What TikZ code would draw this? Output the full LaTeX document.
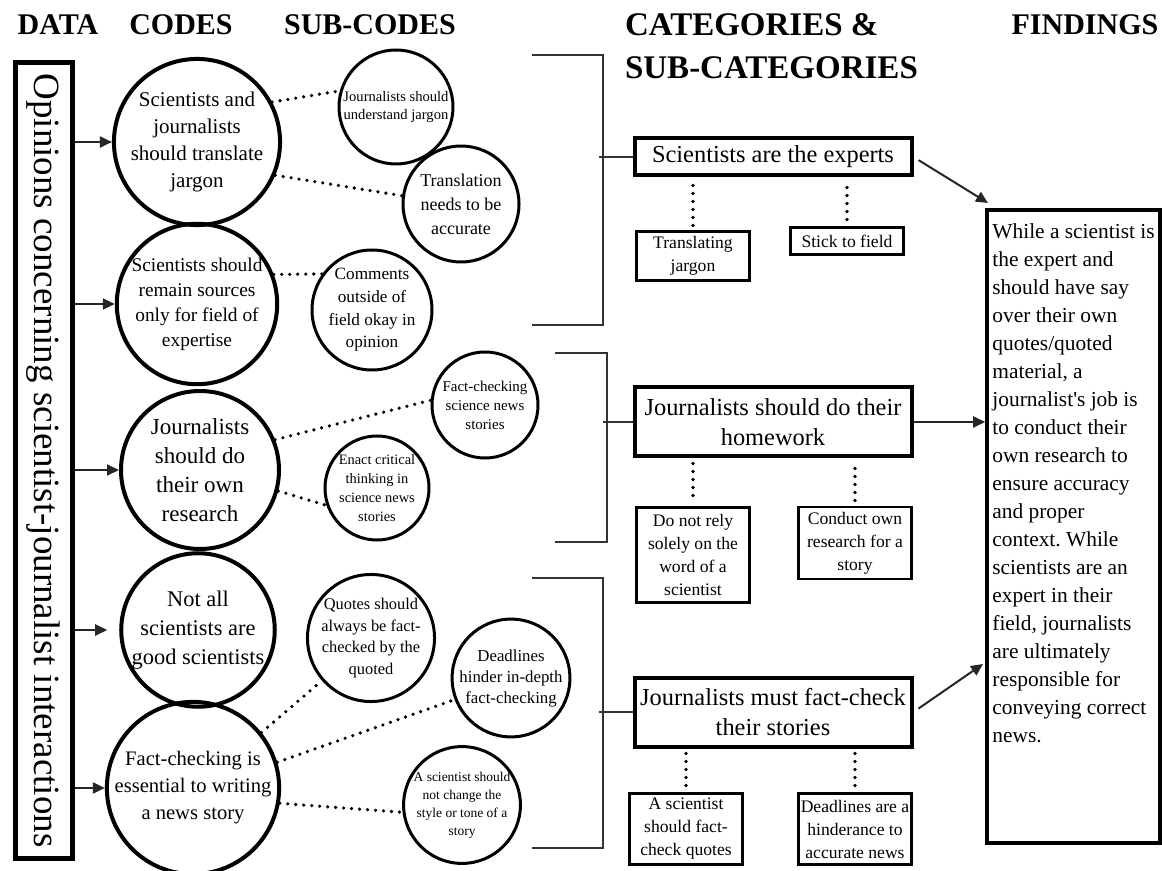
\documentclass[tikz,border=0pt]{standalone}
\usepackage{fontspec}
\setmainfont{Liberation Serif}[Ligatures=TeXOff]
\usetikzlibrary{arrows.meta}

\begin{document}
\frenchspacing
\begin{tikzpicture}[
    x=0.5pt, y=-0.5pt,
	header/.style={
	  font=\fontsize{15}{17}\selectfont\bfseries
	},
	databox/.style={
	  draw,
	  line width=2.5pt,
	  rotate=-90,
	  minimum width=397.5pt,
	  minimum height=28.5pt,
	  inner sep=0pt,
	  font=\fontsize{18.5}{20}\selectfont
	},
	codecirc/.style={
	  circle,
	  draw,
	  line width=2pt,
	  minimum size=#1,
	  inner sep=0pt,
	  align=center
	},
	subcirc/.style={
	  circle,
	  draw,
	  line width=1.5pt,
	  minimum size=#1,
	  inner sep=0pt,
	  align=center
	},
	catbox/.style={
	  draw,
	  line width=2pt,
	  minimum width=138.5pt,
	  inner sep=0pt,
	  align=center,
	  font=\fontsize{12.2}{15}\selectfont
	},
	subbox/.style={
	  draw,
	  line width=1.2pt,
	  minimum width=56.5pt,
	  inner sep=0pt,
	  align=center,
	  font=\fontsize{8.8}{11.5}\selectfont
	},
	findbox/.style={
	  draw,
	  line width=1.8pt,
	  minimum width=86.5pt,
	  minimum height=316.5pt
	},
	dotline/.style={line width=1.8pt, line cap=round, dash pattern=on 0pt off 4pt},
	arr/.style={-{Triangle[length=6pt,width=5.5pt]}, line width=1pt, black!85},
	brack/.style={line width=1pt, black!80}
	]
	\useasboundingbox (0,0) rectangle (1162,871);

	% column headers
	\node[header] (hdata) at (58,25) {DATA};
	\node[header] (hcodes) at (181,25) {CODES};
	\node[header] (hsub) at (370,25) {SUB-CODES};
	\node[header, anchor=west, align=left, font=\fontsize{16.5}{21.5}\selectfont\bfseries] (hcat) at (618,46) {CATEGORIES \&\\SUB-CATEGORIES};
	\node[header] (hfind) at (1085,25) {FINDINGS};

	% data
	\node[databox] (data) at (43.5,460.5) {Opinions concerning scientist-journalist interactions};

	% codes
	\node[codecirc=78pt, font=\fontsize{10.5}{13.5}\selectfont] (c1) at (197,142) {Scientists and\\journalists\\should translate\\jargon};
	\node[codecirc=77pt, font=\fontsize{9.7}{12.5}\selectfont] (c2) at (197,304) {Scientists should\\remain sources\\only for field of\\expertise};
	\node[codecirc=79pt, font=\fontsize{11.5}{14.5}\selectfont] (c3) at (200,470) {Journalists\\should do\\their own\\research};
	\node[codecirc=74pt, font=\fontsize{11.2}{14.5}\selectfont] (c4) at (198,630) {Not all\\scientists are\\good scientists};
	\node[codecirc=77pt, font=\fontsize{10.3}{13.5}\selectfont] (c5) at (193,788) {Fact-checking is\\essential to writing\\a news story};

	\draw[arr] (data.north |- c1.west) -- (c1.west);
	\draw[arr] (data.north |- c2.west) -- (c2.west);
	\draw[arr] (data.north |- c3.west) -- (c3.west);
	\draw[arr, shorten >=6pt] (data.north |- c4.west) -- (c4.west);
	\draw[arr] (data.north |- c5.west) -- (c5.west);

	% sub-codes
	\node[subcirc=57pt, font=\fontsize{7.3}{9}\selectfont] (sa) at (396,107) {Journalists should\\understand jargon};
	\node[subcirc=58pt, font=\fontsize{9}{12}\selectfont] (sb) at (461,204) {Translation\\needs to be\\accurate};
	\node[subcirc=60pt, font=\fontsize{8.6}{11.3}\selectfont] (sc) at (372,310) {Comments\\outside of\\field okay in\\opinion};
	\node[subcirc=53pt, font=\fontsize{7.5}{9.5}\selectfont] (sd) at (485,405) {Fact-checking\\science news\\stories};
	\node[subcirc=52pt, font=\fontsize{7.2}{9.5}\selectfont] (se) at (377,488) {Enact critical\\thinking in\\science news\\stories};
	\node[subcirc=58pt, font=\fontsize{8.2}{10.8}\selectfont] (sf) at (371,638) {Quotes should\\always be fact-\\checked by the\\quoted};
	\node[subcirc=57pt, font=\fontsize{8.4}{10.5}\selectfont] (sg) at (511,678) {Deadlines\\hinder in-depth\\fact-checking};
	\node[subcirc=53pt, font=\fontsize{6.75}{9}\selectfont] (sh) at (462,805) {A scientist should\\not change the\\style or tone of a\\story};

	\draw[dotline] (c1.28) -- (sa.164);
	\draw[dotline] (c1.-23) -- (sb.172);
	\draw[dotline] (c2.21) -- (sc.144);
	\draw[dotline] (c3.22) -- (sd.175);
	\draw[dotline] (c3.-15) -- (se.199);
	\draw[dotline] (c5.39) -- (sf.221);
	\draw[dotline] (c5.17) -- (sg.201);
	\draw[dotline] (c5.-10) -- (sh.187);

	% categories
	\node[catbox, minimum height=18.5pt] (k1) at (773,157) {Scientists are the experts};
	\node[catbox, minimum height=34.5pt] (k2) at (773,422) {Journalists should do their\\homework};
	\node[catbox, minimum height=34.5pt] (k3) at (773,712) {Journalists must fact-check\\their stories};

	\coordinate (b1top) at (532,55);
	\coordinate (b1bot) at (532,325);
	\coordinate (b2top) at (555,353);
	\coordinate (b2bot) at (555,542);
	\coordinate (b3top) at (532,578);
	\coordinate (b3bot) at (532,848);
	\draw[brack] (b1top) -- ++(71,0) |- (b1bot);
	\draw[brack] (k1.west) -- ++(-34,0);
	\draw[brack] (b2top) -- ++(52,0) |- (b2bot);
	\draw[brack] (k2.west) -- ++(-30,0);
	\draw[brack] (b3top) -- ++(71,0) |- (b3bot);
	\draw[brack] (k3.west) -- ++(-34,0);

	% sub-categories
	\node[subbox, minimum height=24.5pt] (t1) at (693,256) {Translating\\jargon};
	\node[subbox, minimum height=13.5pt] (t2) at (847,241) {Stick to field};
	\node[subbox, minimum height=47.5pt] (t3) at (693,555) {Do not rely\\solely on the\\word of a\\scientist};
	\node[subbox, minimum height=36pt] (t4) at (855,543) {Conduct own\\research for a\\story};
	\node[subbox, minimum height=35.5pt] (t5) at (686,829) {A scientist\\should fact-\\check quotes};
	\node[subbox, minimum height=35.5pt] (t6) at (855,829) {Deadlines are a\\hinderance to\\accurate news};

	\draw[dotline, shorten <=4pt, shorten >=2pt] (t1 |- k1.south) -- (t1.north);
	\draw[dotline, shorten <=5pt, shorten >=1pt] (t2 |- k1.south) -- (t2.north);
	\draw[dotline, shorten <=2.5pt, shorten >=2.5pt] (t3 |- k2.south) -- (t3.north);
	\draw[dotline, shorten <=5pt, shorten >=2pt] (t4 |- k2.south) -- (t4.north);
	\draw[dotline, shorten <=2.5pt, shorten >=1pt] (t5 |- k3.south) -- (t5.north);
	\draw[dotline, shorten <=2.5pt, shorten >=1pt] (t6 |- k3.south) -- (t6.north);

	% findings
	\node[findbox] (find) at (1073.5,526.5) {};
	\node[anchor=north west, align=left, inner sep=0pt, font=\fontsize{10.7}{14}\selectfont] (findtext) at (992,223) {While a scientist is\\the expert and\\should have say\\over their own\\quotes/quoted\\material, a\\journalist's job is\\to conduct their\\own research to\\ensure accuracy\\and proper\\context. While\\scientists are an\\expert in their\\field, journalists\\are ultimately\\responsible for\\conveying correct\\news.};

	\coordinate (f1) at (988,203);
	\coordinate (f3) at (983,664);
	\draw[arr, shorten <=3pt] (k1.east) -- (f1);
	\draw[arr] (k2.east) -- (k2.east -| find.west);
	\draw[arr, shorten <=3pt] (k3.east) -- (f3);
  \end{tikzpicture}
\end{document}
